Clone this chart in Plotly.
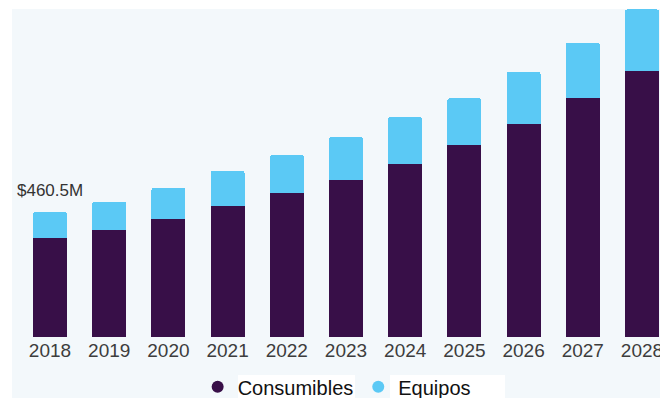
import plotly.graph_objects as go

# Market size by year (USD millions), split by segment
years = ["2018", "2019", "2020", "2021", "2022", "2023", "2024", "2025", "2026", "2027", "2028"]
consumibles = [363.8, 393.3, 432.5, 482.5, 529.2, 577.0, 635.8, 705.6, 782.8, 877.2, 978.7]
equipos = [96.7, 104.0, 116.1, 128.6, 139.7, 158.0, 172.7, 172.7, 192.2, 204.3, 225.6]

DARK = "#380f48"
LIGHT = "#5bc9f5"
PANEL = "#f3f8fb"
FONT = "Liberation Sans, Arial, sans-serif"

first_total = consumibles[0] + equipos[0]

fig = go.Figure()
fig.add_trace(go.Bar(x=years, y=consumibles, name="Consumibles", marker_color=DARK,
                     marker_line_width=0, showlegend=False, width=0.575))
fig.add_trace(go.Bar(x=years, y=equipos, name="Equipos", marker_color=LIGHT,
                     marker_line_width=0, showlegend=False, width=0.575))

# legend entries drawn as round dots
fig.add_trace(go.Scatter(x=[None], y=[None], mode="markers", name="Consumibles",
                         marker=dict(symbol="circle", size=12, color=DARK)))
fig.add_trace(go.Scatter(x=[None], y=[None], mode="markers", name="Equipos",
                         marker=dict(symbol="circle", size=12, color=LIGHT)))

# value label over the first stacked bar (category axis -> index position)
fig.add_annotation(x=0, y=first_total, text=f"${first_total:.1f}M",
                   showarrow=False, yanchor="bottom", yshift=10,
                   font=dict(family=FONT, size=17, color="#333333"))

# white page border around the tinted panel
fig.add_shape(type="rect", xref="paper", yref="paper", x0=-0.1, x1=0, y0=-0.5, y1=1.2,
              fillcolor="white", line_width=0, layer="below")
fig.add_shape(type="rect", xref="paper", yref="paper", x0=-0.1, x1=1.1, y0=1, y1=1.2,
              fillcolor="white", line_width=0, layer="below")
# white backing behind the legend labels
for x0, x1 in [(0.3488, 0.5293), (0.5833, 0.7608)]:
    fig.add_shape(type="rect", xref="paper", yref="paper", x0=x0, x1=x1, y0=-0.2, y1=-0.1159,
                  fillcolor="white", line_width=0, layer="below")

fig.update_layout(
    width=660, height=398,
    margin=dict(l=12, r=0, t=9, b=61, autoexpand=False),
    barmode="stack",
    barcornerradius=3,
    paper_bgcolor=PANEL,
    plot_bgcolor=PANEL,
    showlegend=True,
    legend=dict(orientation="h", x=0.501, xanchor="center", y=-0.152, yanchor="middle",
                traceorder="normal",
                font=dict(family=FONT, size=20, color="#111111"),
                bgcolor="rgba(0,0,0,0)", itemwidth=30),
    xaxis=dict(type="category", range=[-0.642, 10.304], showgrid=False, zeroline=False,
               showline=False, ticks="", tickfont=dict(family=FONT, size=19, color="#3d3d3d")),
    yaxis=dict(range=[0, 1205.4], visible=False, showgrid=False, zeroline=False),
)

fig.write_html("out.html")
